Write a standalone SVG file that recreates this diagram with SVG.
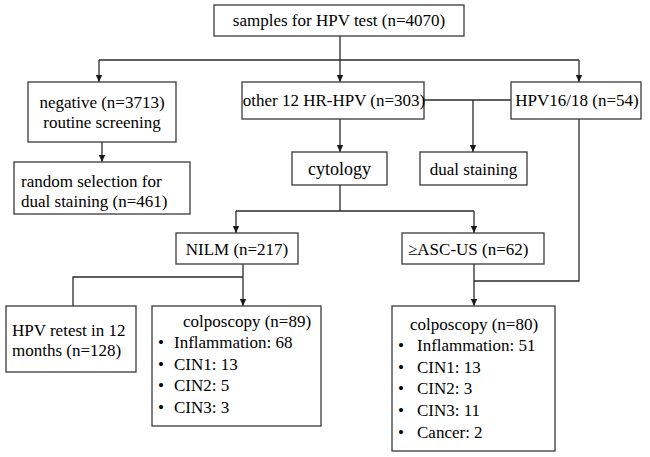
<svg xmlns="http://www.w3.org/2000/svg" width="650" height="457" viewBox="0 0 650 457">
<defs>
<marker id="ah" markerUnits="userSpaceOnUse" markerWidth="8" markerHeight="8" viewBox="0 0 8 8" refX="7" refY="4" orient="auto">
<path d="M0,0.8 L7,4 L0,7.2 Z" fill="#1a1a1a"/>
</marker>
</defs>
<style>
.box{fill:#fff;stroke:#3a3a3a;stroke-width:1.3}
.ln{fill:none;stroke:#2a2a2a;stroke-width:1.3}
</style>
<rect width="650" height="457" fill="#fff"/>
<g id="connectors">
<path class="ln" d="M340,36 V82" marker-end="url(#ah)"/>
<path class="ln" d="M99,60 H579"/>
<path class="ln" d="M99,60 V82" marker-end="url(#ah)"/>
<path class="ln" d="M579,60 V82" marker-end="url(#ah)"/>
<path class="ln" d="M102,142 V162" marker-end="url(#ah)"/>
<path class="ln" d="M424,100 H511"/>
<path class="ln" d="M473,100 V152" marker-end="url(#ah)"/>
<path class="ln" d="M340,119 V152" marker-end="url(#ah)"/>
<path class="ln" d="M340,185 V211"/>
<path class="ln" d="M236,211 H474"/>
<path class="ln" d="M236,211 V233" marker-end="url(#ah)"/>
<path class="ln" d="M474,211 V233" marker-end="url(#ah)"/>
<path class="ln" d="M243,264 V306" marker-end="url(#ah)"/>
<path class="ln" d="M73,306 V277 H243"/>
<path class="ln" d="M579,119 V281 H474"/>
<path class="ln" d="M474,264 V306" marker-end="url(#ah)"/>
</g>
<g id="samples">
<rect class="box" x="214" y="5" width="250" height="31"/>
<text font-family="Times New Roman, serif" font-size="17" text-anchor="middle" x="339" y="26">samples for HPV test (n=4070)</text>
</g>
<g id="negative">
<rect class="box" x="28" y="82" width="148" height="60"/>
<text font-family="Times New Roman, serif" font-size="17" text-anchor="middle" x="102" y="108">negative (n=3713)</text>
<text font-family="Times New Roman, serif" font-size="17" text-anchor="middle" x="102" y="128">routine screening</text>
</g>
<g id="random">
<rect class="box" x="14" y="162" width="176" height="52"/>
<text font-family="Times New Roman, serif" font-size="17" x="21" y="187">random selection for</text>
<text font-family="Times New Roman, serif" font-size="17" x="21" y="207">dual staining (n=461)</text>
</g>
<g id="other12">
<rect class="box" x="242" y="82" width="182" height="37"/>
<text font-family="Times New Roman, serif" font-size="17" text-anchor="middle" x="334" y="106">other 12 HR-HPV (n=303)</text>
</g>
<g id="hpv1618">
<rect class="box" x="511" y="82" width="130" height="37"/>
<text font-family="Times New Roman, serif" font-size="17" text-anchor="middle" x="577" y="106">HPV16/18 (n=54)</text>
</g>
<g id="cytology">
<rect class="box" x="292" y="152" width="95" height="33"/>
<text font-family="Times New Roman, serif" font-size="18" text-anchor="middle" x="339.5" y="175">cytology</text>
</g>
<g id="dualstaining">
<rect class="box" x="420" y="152" width="107" height="33"/>
<text font-family="Times New Roman, serif" font-size="17" text-anchor="middle" x="473.5" y="175">dual staining</text>
</g>
<g id="nilm">
<rect class="box" x="176" y="233" width="122" height="31"/>
<text font-family="Times New Roman, serif" font-size="17" text-anchor="middle" x="237" y="255">NILM (n=217)</text>
</g>
<g id="ascus">
<rect class="box" x="402" y="233" width="142" height="31"/>
<text font-family="Times New Roman, serif" font-size="17" x="408" y="255">≥ASC-US (n=62)</text>
</g>
<g id="retest">
<rect class="box" x="6" y="306" width="130" height="66"/>
<text font-family="Times New Roman, serif" font-size="17" x="12" y="336">HPV retest in 12</text>
<text font-family="Times New Roman, serif" font-size="17" x="12" y="356">months (n=128)</text>
</g>
<g id="colpo89">
<rect class="box" x="152" y="306" width="169" height="120"/>
<text font-family="Times New Roman, serif" font-size="17" x="183" y="327">colposcopy (n=89)</text>
<text font-family="Times New Roman, serif" font-size="17" x="158" y="348">•</text>
<text font-family="Times New Roman, serif" font-size="17" x="174" y="348">Inflammation: 68</text>
<text font-family="Times New Roman, serif" font-size="17" x="158" y="370">•</text>
<text font-family="Times New Roman, serif" font-size="17" x="174" y="370">CIN1: 13</text>
<text font-family="Times New Roman, serif" font-size="17" x="158" y="391">•</text>
<text font-family="Times New Roman, serif" font-size="17" x="174" y="391">CIN2: 5</text>
<text font-family="Times New Roman, serif" font-size="17" x="158" y="413">•</text>
<text font-family="Times New Roman, serif" font-size="17" x="174" y="413">CIN3: 3</text>
</g>
<g id="colpo80">
<rect class="box" x="392" y="306" width="163" height="145"/>
<text font-family="Times New Roman, serif" font-size="17" x="410" y="330">colposcopy (n=80)</text>
<text font-family="Times New Roman, serif" font-size="17" x="398" y="351">•</text>
<text font-family="Times New Roman, serif" font-size="17" x="417" y="351">Inflammation: 51</text>
<text font-family="Times New Roman, serif" font-size="17" x="398" y="373">•</text>
<text font-family="Times New Roman, serif" font-size="17" x="417" y="373">CIN1: 13</text>
<text font-family="Times New Roman, serif" font-size="17" x="398" y="394">•</text>
<text font-family="Times New Roman, serif" font-size="17" x="417" y="394">CIN2: 3</text>
<text font-family="Times New Roman, serif" font-size="17" x="398" y="416">•</text>
<text font-family="Times New Roman, serif" font-size="17" x="417" y="416">CIN3: 11</text>
<text font-family="Times New Roman, serif" font-size="17" x="398" y="438">•</text>
<text font-family="Times New Roman, serif" font-size="17" x="417" y="438">Cancer: 2</text>
</g>
</svg>
